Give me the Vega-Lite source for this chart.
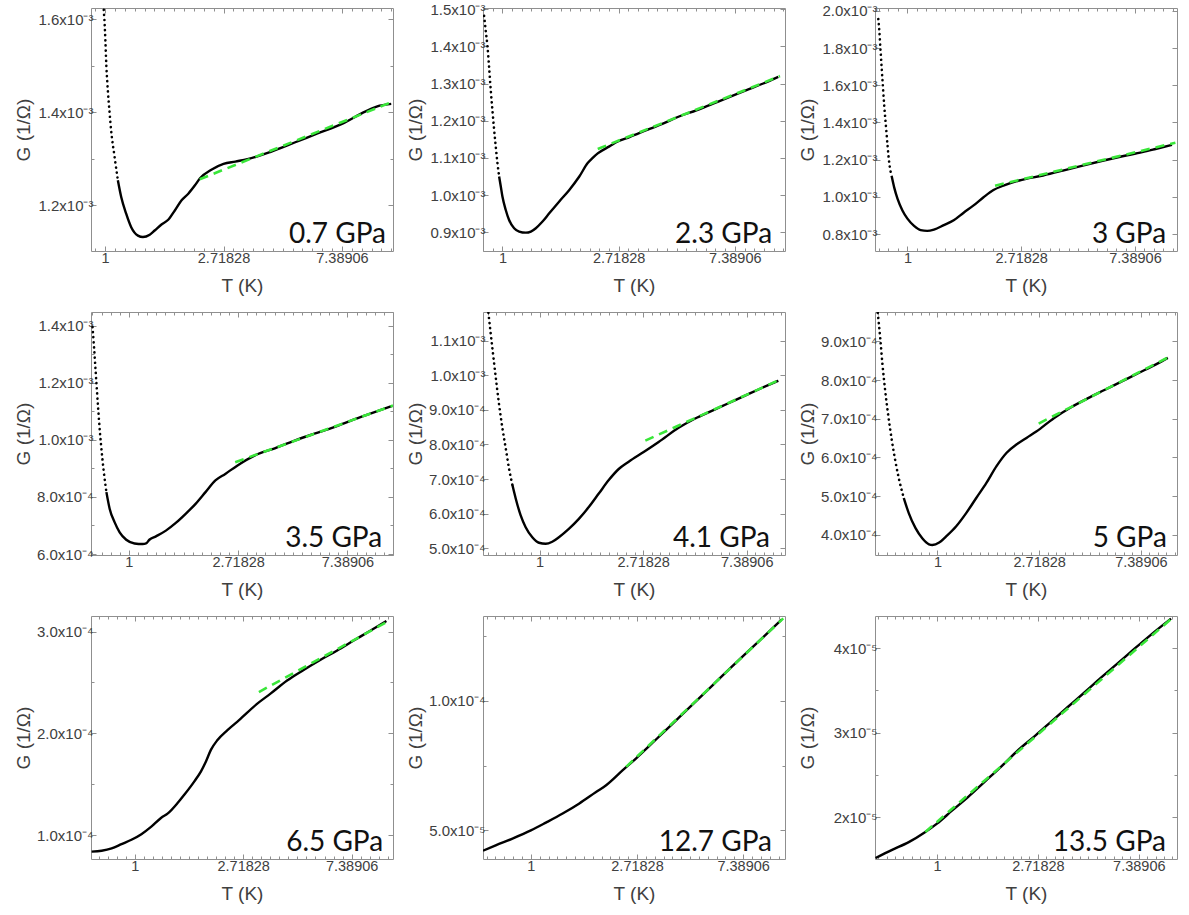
{
"$schema": "https://vega.github.io/schema/vega-lite/v6.json",
"autosize": {"type": "pad"},
"padding": {"left": 13, "top": 1, "right": 5, "bottom": 5},
"background": "white",
"columns": 3,
"bounds": "flush",
"spacing": {"row": 61, "column": 90},
"config": {
  "view": {"stroke": "#8f8f8f", "strokeWidth": 1},
  "axis": {"domain": false, "grid": false, "tickColor": "#8f8f8f", "tickWidth": 1, "labelColor": "#404040", "labelFont": "Liberation Sans", "labelFontSize": 14, "titleFont": "Liberation Sans", "titleFontSize": 19, "titleColor": "#404040", "titleFontWeight": "normal", "labelOverlap": false, "labelFlush": false}
},
"datasets": {
  "s1": [{"T":0.989,"G":0.00162},{"T":1.0,"G":0.001571},{"T":1.011,"G":0.001499},{"T":1.023,"G":0.001449},{"T":1.037,"G":0.001405},{"T":1.052,"G":0.001362},{"T":1.083,"G":0.001305},{"T":1.114,"G":0.001254}],
  "p1": [{"T":1.114,"G":0.001254},{"T":1.146,"G":0.001218},{"T":1.195,"G":0.001182},{"T":1.247,"G":0.001153},{"T":1.32,"G":0.001135},{"T":1.377,"G":0.001132},{"T":1.458,"G":0.001137},{"T":1.52,"G":0.001146},{"T":1.61,"G":0.001159},{"T":1.704,"G":0.001169},{"T":1.802,"G":0.001189},{"T":1.908,"G":0.001211},{"T":2.019,"G":0.001225},{"T":2.136,"G":0.001243},{"T":2.229,"G":0.001258},{"T":2.462,"G":0.001277},{"T":2.718,"G":0.001289},{"T":3.002,"G":0.001294},{"T":3.324,"G":0.001299},{"T":4.052,"G":0.001315},{"T":4.956,"G":0.001335},{"T":6.043,"G":0.001355},{"T":7.389,"G":0.001375},{"T":9.03,"G":0.001402},{"T":10.15,"G":0.001414},{"T":11.2,"G":0.001418}],
  "f1": [{"T":2.223,"G":0.001256},{"T":11.37,"G":0.001423}],
  "s2": [{"T":0.854,"G":0.001482},{"T":0.866,"G":0.001442},{"T":0.879,"G":0.001401},{"T":0.891,"G":0.001347},{"T":0.904,"G":0.001284},{"T":0.917,"G":0.00123},{"T":0.931,"G":0.001176},{"T":0.944,"G":0.001131},{"T":0.958,"G":0.001086},{"T":0.972,"G":0.00105}],
  "p2": [{"T":0.972,"G":0.00105},{"T":0.986,"G":0.001023},{"T":1.0,"G":0.000996},{"T":1.029,"G":0.00096},{"T":1.059,"G":0.000933},{"T":1.106,"G":0.000911},{"T":1.155,"G":0.000902},{"T":1.223,"G":0.000899},{"T":1.277,"G":0.000902},{"T":1.333,"G":0.000911},{"T":1.412,"G":0.000929},{"T":1.496,"G":0.000951},{"T":1.631,"G":0.000983},{"T":1.778,"G":0.001014},{"T":1.938,"G":0.00105},{"T":2.083,"G":0.001086},{"T":2.175,"G":0.0011},{"T":2.271,"G":0.001112},{"T":2.511,"G":0.001131},{"T":2.699,"G":0.001144},{"T":2.985,"G":0.001156},{"T":3.548,"G":0.001178},{"T":3.98,"G":0.001192},{"T":4.596,"G":0.001212},{"T":5.307,"G":0.001228},{"T":6.129,"G":0.001246},{"T":7.078,"G":0.001264},{"T":8.17,"G":0.001282},{"T":9.44,"G":0.0013},{"T":10.74,"G":0.001318}],
  "f2": [{"T":2.271,"G":0.001124},{"T":10.9,"G":0.00132}],
  "s3": [{"T":0.774,"G":0.001956},{"T":0.781,"G":0.001894},{"T":0.788,"G":0.001805},{"T":0.797,"G":0.001699},{"T":0.806,"G":0.001592},{"T":0.816,"G":0.001486},{"T":0.828,"G":0.001379},{"T":0.84,"G":0.001273},{"T":0.852,"G":0.001184},{"T":0.87,"G":0.001113}],
  "p3": [{"T":0.87,"G":0.001113},{"T":0.89,"G":0.001051},{"T":0.917,"G":0.000989},{"T":0.957,"G":0.000927},{"T":1.0,"G":0.000883},{"T":1.06,"G":0.000844},{"T":1.123,"G":0.000821},{"T":1.19,"G":0.000817},{"T":1.262,"G":0.000824},{"T":1.377,"G":0.000848},{"T":1.502,"G":0.000874},{"T":1.639,"G":0.000915},{"T":1.789,"G":0.000954},{"T":1.952,"G":0.000998},{"T":2.13,"G":0.001037},{"T":2.324,"G":0.00106},{"T":2.672,"G":0.001088},{"T":3.293,"G":0.001115},{"T":3.921,"G":0.001141},{"T":4.668,"G":0.001168},{"T":5.557,"G":0.001194},{"T":6.618,"G":0.001218},{"T":7.88,"G":0.00124},{"T":8.85,"G":0.001257},{"T":10.23,"G":0.001279}],
  "f3": [{"T":2.16,"G":0.00106},{"T":10.54,"G":0.001291}],
  "s4": [{"T":0.717,"G":0.001396},{"T":0.726,"G":0.001332},{"T":0.735,"G":0.001262},{"T":0.744,"G":0.001192},{"T":0.755,"G":0.00111},{"T":0.767,"G":0.001028},{"T":0.78,"G":0.000957},{"T":0.795,"G":0.000887},{"T":0.814,"G":0.000817}],
  "p4": [{"T":0.814,"G":0.000817},{"T":0.839,"G":0.000758},{"T":0.878,"G":0.000711},{"T":0.919,"G":0.000676},{"T":0.976,"G":0.00065},{"T":1.053,"G":0.000637},{"T":1.135,"G":0.000635},{"T":1.17,"G":0.000637},{"T":1.206,"G":0.00065},{"T":1.281,"G":0.000662},{"T":1.403,"G":0.000682},{"T":1.536,"G":0.000709},{"T":1.681,"G":0.000741},{"T":1.841,"G":0.000776},{"T":2.016,"G":0.000817},{"T":2.207,"G":0.000858},{"T":2.416,"G":0.000881},{"T":2.694,"G":0.00091},{"T":3.171,"G":0.000946},{"T":3.801,"G":0.000971},{"T":4.558,"G":0.000998},{"T":5.463,"G":0.001022},{"T":6.548,"G":0.001045},{"T":7.85,"G":0.001072},{"T":9.41,"G":0.001097},{"T":11.11,"G":0.001119}],
  "f4": [{"T":2.645,"G":0.000922},{"T":11.21,"G":0.001121}],
  "s5": [{"T":0.61,"G":0.00118},{"T":0.624,"G":0.001119},{"T":0.638,"G":0.001061},{"T":0.655,"G":0.000993},{"T":0.676,"G":0.000916},{"T":0.698,"G":0.000848},{"T":0.721,"G":0.000789},{"T":0.744,"G":0.000731},{"T":0.769,"G":0.000683}],
  "p5": [{"T":0.769,"G":0.000683},{"T":0.794,"G":0.000644},{"T":0.833,"G":0.000595},{"T":0.874,"G":0.000561},{"T":0.932,"G":0.000532},{"T":0.994,"G":0.000516},{"T":1.06,"G":0.000513},{"T":1.13,"G":0.000519},{"T":1.205,"G":0.000532},{"T":1.326,"G":0.000556},{"T":1.461,"G":0.000585},{"T":1.608,"G":0.000619},{"T":1.771,"G":0.000658},{"T":1.95,"G":0.000697},{"T":2.147,"G":0.000729},{"T":2.364,"G":0.00075},{"T":2.731,"G":0.000778},{"T":3.156,"G":0.000807},{"T":3.826,"G":0.000848},{"T":4.492,"G":0.000875},{"T":5.274,"G":0.000897},{"T":6.193,"G":0.000919},{"T":7.27,"G":0.000941},{"T":8.54,"G":0.000963},{"T":10.02,"G":0.000984}],
  "f5": [{"T":2.776,"G":0.000811},{"T":10.02,"G":0.000985}],
  "s6": [{"T":0.556,"G":0.0009737},{"T":0.569,"G":0.0009113},{"T":0.582,"G":0.0008419},{"T":0.598,"G":0.0007726},{"T":0.618,"G":0.0007033},{"T":0.639,"G":0.0006426},{"T":0.661,"G":0.0005906},{"T":0.683,"G":0.0005473},{"T":0.718,"G":0.0004953}],
  "p6": [{"T":0.718,"G":0.0004953},{"T":0.754,"G":0.0004563},{"T":0.806,"G":0.0004173},{"T":0.861,"G":0.0003913},{"T":0.92,"G":0.0003757},{"T":0.951,"G":0.000374},{"T":1.017,"G":0.0003801},{"T":1.087,"G":0.0003957},{"T":1.2,"G":0.0004217},{"T":1.326,"G":0.0004563},{"T":1.464,"G":0.0004953},{"T":1.618,"G":0.0005343},{"T":1.787,"G":0.0005776},{"T":1.974,"G":0.0006123},{"T":2.18,"G":0.000634},{"T":2.408,"G":0.0006513},{"T":2.642,"G":0.0006669},{"T":3.14,"G":0.0007016},{"T":3.706,"G":0.0007293},{"T":4.374,"G":0.0007527},{"T":5.164,"G":0.0007744},{"T":6.096,"G":0.000796},{"T":7.19,"G":0.0008177},{"T":8.49,"G":0.0008393},{"T":9.63,"G":0.0008575}],
  "f6": [{"T":2.705,"G":0.0006877},{"T":9.7,"G":0.0008593}],
  "p7": [{"T":0.672,"G":0.0000838},{"T":0.737,"G":0.0000847},{"T":0.808,"G":0.000087},{"T":0.885,"G":0.0000912},{"T":0.97,"G":0.0000955},{"T":1.063,"G":0.000101},{"T":1.165,"G":0.0001084},{"T":1.277,"G":0.0001172},{"T":1.357,"G":0.0001214},{"T":1.487,"G":0.0001318},{"T":1.581,"G":0.0001399},{"T":1.733,"G":0.0001529},{"T":1.842,"G":0.0001627},{"T":1.928,"G":0.0001724},{"T":2.018,"G":0.0001838},{"T":2.145,"G":0.0001935},{"T":2.351,"G":0.0002032},{"T":2.617,"G":0.000213},{"T":3.096,"G":0.0002292},{"T":3.497,"G":0.000239},{"T":4.075,"G":0.0002519},{"T":4.746,"G":0.0002623},{"T":5.529,"G":0.0002721},{"T":6.443,"G":0.0002812},{"T":7.5,"G":0.0002909},{"T":8.74,"G":0.0003006},{"T":10.18,"G":0.0003104}],
  "f7": [{"T":3.142,"G":0.0002406},{"T":10.5,"G":0.000311}],
  "p8": [{"T":0.637,"G":0.00004217},{"T":0.718,"G":0.00004426},{"T":0.841,"G":0.00004687},{"T":1.0,"G":0.00005},{"T":1.152,"G":0.000053},{"T":1.349,"G":0.0000565},{"T":1.579,"G":0.0000604},{"T":1.848,"G":0.0000648},{"T":2.032,"G":0.0000674},{"T":2.377,"G":0.0000732},{"T":2.697,"G":0.0000778},{"T":3.059,"G":0.00008264},{"T":3.47,"G":0.0000876},{"T":4.062,"G":0.0000937},{"T":4.754,"G":0.00009987},{"T":5.565,"G":0.0001061},{"T":6.514,"G":0.0001123},{"T":7.62,"G":0.0001184},{"T":8.93,"G":0.0001245},{"T":10.61,"G":0.0001312}],
  "f8": [{"T":2.454,"G":0.0000745},{"T":10.78,"G":0.0001317}],
  "p9": [{"T":0.544,"G":0.00001522},{"T":0.641,"G":0.00001618},{"T":0.756,"G":0.00001709},{"T":0.891,"G":0.00001829},{"T":1.0,"G":0.00001928},{"T":1.16,"G":0.0000208},{"T":1.367,"G":0.00002247},{"T":1.611,"G":0.00002426},{"T":1.899,"G":0.00002606},{"T":2.239,"G":0.00002797},{"T":2.665,"G":0.00002972},{"T":3.111,"G":0.00003135},{"T":3.666,"G":0.00003307},{"T":4.323,"G":0.00003478},{"T":5.095,"G":0.00003653},{"T":6.007,"G":0.00003821},{"T":7.08,"G":0.00003992},{"T":8.35,"G":0.00004159},{"T":10.17,"G":0.00004347}],
  "f9": [{"T":0.891,"G":0.00001829},{"T":10.34,"G":0.00004359}]
},
"concat": [
{"width": 302, "height": 243,
 "layer": [
  {"data": {"name": "p1"}, "mark": {"type": "line", "color": "#000000", "strokeWidth": 2.4, "interpolate": "monotone", "clip": true},
   "encoding": {
    "x": {"field": "T", "type": "quantitative", "scale": {"type": "log", "base": 2.718281828459045, "domain": [0.888, 11.37], "nice": false}, "axis": {"orient": "bottom", "title": "T (K)", "values": [0.5134,0.558,0.6065,0.6592,0.7165,0.7788,0.8465,0.92,1,1.0869,1.1814,1.284,1.3956,1.5169,1.6487,1.792,1.9477,2.117,2.301,2.5009,2.71828,2.9545,3.2113,3.4903,3.7937,4.1234,4.4817,4.8712,5.2945,5.7546,6.2547,6.7983,7.38906,8.0312,8.7291,9.4877,10.3123,11.2085], "tickCount": 200, "labelExpr": "datum.value == 1 ? '1' : datum.value == 2.71828 ? '2.71828' : datum.value == 7.38906 ? '7.38906' : ''", "tickSize": {"condition": {"test": "datum.value == 1 || datum.value == 2.71828 || datum.value == 7.38906", "value": -5}, "value": -3}, "labelPadding": 5, "titleY": 34, "titleBaseline": "middle", "labelFont": "Liberation Sans", "labelFontSize": 14.5, "labelColor": "#404040", "titleFont": "Liberation Sans", "titleFontSize": 19, "titleFontWeight": "normal", "titleColor": "#404040"}},
    "y": {"field": "G", "type": "quantitative", "scale": {"domain": [0.001102, 0.0016238], "nice": false, "zero": false}, "axis": {"orient": "left", "title": "G (1/\u03a9)", "values": [0.0012,0.0013,0.0014,0.0015,0.0016], "tickCount": 200, "labelExpr": "round(datum.value*1e4) % 2 == 0 ? format(datum.value*1e3, '.1f') + 'x10\u207b\u00b3' : ''", "tickSize": {"condition": {"test": "round(datum.value*1e4) % 2 == 0", "value": -5}, "value": -3}, "labelPadding": 3, "titleX": -68, "titleBaseline": "middle", "labelFont": "Liberation Sans", "labelFontSize": 15, "labelColor": "#404040", "titleFont": "Liberation Sans", "titleFontSize": 19, "titleFontWeight": "normal", "titleColor": "#404040"}}
   }},
  {"data": {"name": "s1"}, "mark": {"type": "line", "color": "#000000", "strokeWidth": 2.6, "strokeDash": [0.1, 5], "strokeCap": "round", "interpolate": "monotone", "clip": true},
   "encoding": {
    "x": {"field": "T", "type": "quantitative", "scale": {"type": "log", "base": 2.718281828459045, "domain": [0.888, 11.37], "nice": false}, "axis": null},
    "y": {"field": "G", "type": "quantitative", "scale": {"domain": [0.001102, 0.0016238], "nice": false, "zero": false}, "axis": null}
   }},
  {"data": {"name": "f1"}, "mark": {"type": "line", "color": "#39e639", "strokeWidth": 2.6, "strokeDash": [9, 6], "clip": true},
   "encoding": {
    "x": {"field": "T", "type": "quantitative", "scale": {"type": "log", "base": 2.718281828459045, "domain": [0.888, 11.37], "nice": false}, "axis": {"orient": "top", "title": null, "labels": false, "values": [0.5134,0.558,0.6065,0.6592,0.7165,0.7788,0.8465,0.92,1,1.0869,1.1814,1.284,1.3956,1.5169,1.6487,1.792,1.9477,2.117,2.301,2.5009,2.71828,2.9545,3.2113,3.4903,3.7937,4.1234,4.4817,4.8712,5.2945,5.7546,6.2547,6.7983,7.38906,8.0312,8.7291,9.4877,10.3123,11.2085], "tickCount": 200, "tickSize": {"condition": {"test": "datum.value == 1 || datum.value == 2.71828 || datum.value == 7.38906", "value": -5}, "value": -3}}},
    "y": {"field": "G", "type": "quantitative", "scale": {"domain": [0.001102, 0.0016238], "nice": false, "zero": false}, "axis": {"orient": "right", "title": null, "labels": false, "values": [0.0012,0.0013,0.0014,0.0015,0.0016], "tickCount": 200, "tickSize": {"condition": {"test": "round(datum.value*1e4) % 2 == 0", "value": -5}, "value": -3}}}
   }},
  {"data": {"values": [{"label": "0.7 GPa"}]}, "mark": {"type": "text", "font": "Lato", "fontSize": 28, "align": "right", "baseline": "alphabetic", "color": "#111111"},
   "encoding": {"x": {"datum": 10.71, "type": "quantitative", "axis": null}, "y": {"datum": 0.001119, "type": "quantitative", "axis": null}, "text": {"field": "label"}}}
 ],
 "resolve": {"axis": {"x": "independent", "y": "independent"}}
},
{"width": 302, "height": 243,
 "layer": [
  {"data": {"name": "p2"}, "mark": {"type": "line", "color": "#000000", "strokeWidth": 2.4, "interpolate": "monotone", "clip": true},
   "encoding": {
    "x": {"field": "T", "type": "quantitative", "scale": {"type": "log", "base": 2.718281828459045, "domain": [0.846, 11.38], "nice": false}, "axis": {"orient": "bottom", "title": "T (K)", "values": [0.5134,0.558,0.6065,0.6592,0.7165,0.7788,0.8465,0.92,1,1.0869,1.1814,1.284,1.3956,1.5169,1.6487,1.792,1.9477,2.117,2.301,2.5009,2.71828,2.9545,3.2113,3.4903,3.7937,4.1234,4.4817,4.8712,5.2945,5.7546,6.2547,6.7983,7.38906,8.0312,8.7291,9.4877,10.3123,11.2085], "tickCount": 200, "labelExpr": "datum.value == 1 ? '1' : datum.value == 2.71828 ? '2.71828' : datum.value == 7.38906 ? '7.38906' : ''", "tickSize": {"condition": {"test": "datum.value == 1 || datum.value == 2.71828 || datum.value == 7.38906", "value": -5}, "value": -3}, "labelPadding": 5, "titleY": 34, "titleBaseline": "middle", "labelFont": "Liberation Sans", "labelFontSize": 14.5, "labelColor": "#404040", "titleFont": "Liberation Sans", "titleFontSize": 19, "titleFontWeight": "normal", "titleColor": "#404040"}},
    "y": {"field": "G", "type": "quantitative", "scale": {"domain": [0.0008497, 0.001503], "nice": false, "zero": false}, "axis": {"orient": "left", "title": "G (1/\u03a9)", "values": [0.0009,0.001,0.0011,0.0012,0.0013,0.0014,0.0015], "tickCount": 200, "labelExpr": "format(datum.value*1e3, '.1f') + 'x10\u207b\u00b3'", "tickSize": -5, "labelPadding": 3, "titleX": -68, "titleBaseline": "middle", "labelFont": "Liberation Sans", "labelFontSize": 15, "labelColor": "#404040", "titleFont": "Liberation Sans", "titleFontSize": 19, "titleFontWeight": "normal", "titleColor": "#404040"}}
   }},
  {"data": {"name": "s2"}, "mark": {"type": "line", "color": "#000000", "strokeWidth": 2.6, "strokeDash": [0.1, 5], "strokeCap": "round", "interpolate": "monotone", "clip": true},
   "encoding": {
    "x": {"field": "T", "type": "quantitative", "scale": {"type": "log", "base": 2.718281828459045, "domain": [0.846, 11.38], "nice": false}, "axis": null},
    "y": {"field": "G", "type": "quantitative", "scale": {"domain": [0.0008497, 0.001503], "nice": false, "zero": false}, "axis": null}
   }},
  {"data": {"name": "f2"}, "mark": {"type": "line", "color": "#39e639", "strokeWidth": 2.6, "strokeDash": [9, 6], "clip": true},
   "encoding": {
    "x": {"field": "T", "type": "quantitative", "scale": {"type": "log", "base": 2.718281828459045, "domain": [0.846, 11.38], "nice": false}, "axis": {"orient": "top", "title": null, "labels": false, "values": [0.5134,0.558,0.6065,0.6592,0.7165,0.7788,0.8465,0.92,1,1.0869,1.1814,1.284,1.3956,1.5169,1.6487,1.792,1.9477,2.117,2.301,2.5009,2.71828,2.9545,3.2113,3.4903,3.7937,4.1234,4.4817,4.8712,5.2945,5.7546,6.2547,6.7983,7.38906,8.0312,8.7291,9.4877,10.3123,11.2085], "tickCount": 200, "tickSize": {"condition": {"test": "datum.value == 1 || datum.value == 2.71828 || datum.value == 7.38906", "value": -5}, "value": -3}}},
    "y": {"field": "G", "type": "quantitative", "scale": {"domain": [0.0008497, 0.001503], "nice": false, "zero": false}, "axis": {"orient": "right", "title": null, "labels": false, "values": [0.0009,0.001,0.0011,0.0012,0.0013,0.0014,0.0015], "tickCount": 200, "tickSize": -5}}
   }},
  {"data": {"values": [{"label": "2.3 GPa"}]}, "mark": {"type": "text", "font": "Lato", "fontSize": 28, "align": "right", "baseline": "alphabetic", "color": "#111111"},
   "encoding": {"x": {"datum": 10.18, "type": "quantitative", "axis": null}, "y": {"datum": 0.0008713, "type": "quantitative", "axis": null}, "text": {"field": "label"}}}
 ],
 "resolve": {"axis": {"x": "independent", "y": "independent"}}
},
{"width": 302, "height": 243,
 "layer": [
  {"data": {"name": "p3"}, "mark": {"type": "line", "color": "#000000", "strokeWidth": 2.4, "interpolate": "monotone", "clip": true},
   "encoding": {
    "x": {"field": "T", "type": "quantitative", "scale": {"type": "log", "base": 2.718281828459045, "domain": [0.752, 10.69], "nice": false}, "axis": {"orient": "bottom", "title": "T (K)", "values": [0.5134,0.558,0.6065,0.6592,0.7165,0.7788,0.8465,0.92,1,1.0869,1.1814,1.284,1.3956,1.5169,1.6487,1.792,1.9477,2.117,2.301,2.5009,2.71828,2.9545,3.2113,3.4903,3.7937,4.1234,4.4817,4.8712,5.2945,5.7546,6.2547,6.7983,7.38906,8.0312,8.7291,9.4877,10.3123,11.2085], "tickCount": 200, "labelExpr": "datum.value == 1 ? '1' : datum.value == 2.71828 ? '2.71828' : datum.value == 7.38906 ? '7.38906' : ''", "tickSize": {"condition": {"test": "datum.value == 1 || datum.value == 2.71828 || datum.value == 7.38906", "value": -5}, "value": -3}, "labelPadding": 5, "titleY": 34, "titleBaseline": "middle", "labelFont": "Liberation Sans", "labelFontSize": 14.5, "labelColor": "#404040", "titleFont": "Liberation Sans", "titleFontSize": 19, "titleFontWeight": "normal", "titleColor": "#404040"}},
    "y": {"field": "G", "type": "quantitative", "scale": {"domain": [0.000709, 0.002015], "nice": false, "zero": false}, "axis": {"orient": "left", "title": "G (1/\u03a9)", "values": [0.0008,0.001,0.0012,0.0014,0.0016,0.0018,0.002], "tickCount": 200, "labelExpr": "format(datum.value*1e3, '.1f') + 'x10\u207b\u00b3'", "tickSize": -5, "labelPadding": 3, "titleX": -68, "titleBaseline": "middle", "labelFont": "Liberation Sans", "labelFontSize": 15, "labelColor": "#404040", "titleFont": "Liberation Sans", "titleFontSize": 19, "titleFontWeight": "normal", "titleColor": "#404040"}}
   }},
  {"data": {"name": "s3"}, "mark": {"type": "line", "color": "#000000", "strokeWidth": 2.6, "strokeDash": [0.1, 5], "strokeCap": "round", "interpolate": "monotone", "clip": true},
   "encoding": {
    "x": {"field": "T", "type": "quantitative", "scale": {"type": "log", "base": 2.718281828459045, "domain": [0.752, 10.69], "nice": false}, "axis": null},
    "y": {"field": "G", "type": "quantitative", "scale": {"domain": [0.000709, 0.002015], "nice": false, "zero": false}, "axis": null}
   }},
  {"data": {"name": "f3"}, "mark": {"type": "line", "color": "#39e639", "strokeWidth": 2.6, "strokeDash": [9, 6], "clip": true},
   "encoding": {
    "x": {"field": "T", "type": "quantitative", "scale": {"type": "log", "base": 2.718281828459045, "domain": [0.752, 10.69], "nice": false}, "axis": {"orient": "top", "title": null, "labels": false, "values": [0.5134,0.558,0.6065,0.6592,0.7165,0.7788,0.8465,0.92,1,1.0869,1.1814,1.284,1.3956,1.5169,1.6487,1.792,1.9477,2.117,2.301,2.5009,2.71828,2.9545,3.2113,3.4903,3.7937,4.1234,4.4817,4.8712,5.2945,5.7546,6.2547,6.7983,7.38906,8.0312,8.7291,9.4877,10.3123,11.2085], "tickCount": 200, "tickSize": {"condition": {"test": "datum.value == 1 || datum.value == 2.71828 || datum.value == 7.38906", "value": -5}, "value": -3}}},
    "y": {"field": "G", "type": "quantitative", "scale": {"domain": [0.000709, 0.002015], "nice": false, "zero": false}, "axis": {"orient": "right", "title": null, "labels": false, "values": [0.0008,0.001,0.0012,0.0014,0.0016,0.0018,0.002], "tickCount": 200, "tickSize": -5}}
   }},
  {"data": {"values": [{"label": "3 GPa"}]}, "mark": {"type": "text", "font": "Lato", "fontSize": 28, "align": "right", "baseline": "alphabetic", "color": "#111111"},
   "encoding": {"x": {"datum": 9.71, "type": "quantitative", "axis": null}, "y": {"datum": 0.000751, "type": "quantitative", "axis": null}, "text": {"field": "label"}}}
 ],
 "resolve": {"axis": {"x": "independent", "y": "independent"}}
},
{"width": 302, "height": 243,
 "layer": [
  {"data": {"name": "p4"}, "mark": {"type": "line", "color": "#000000", "strokeWidth": 2.4, "interpolate": "monotone", "clip": true},
   "encoding": {
    "x": {"field": "T", "type": "quantitative", "scale": {"type": "log", "base": 2.718281828459045, "domain": [0.707, 11.21], "nice": false}, "axis": {"orient": "bottom", "title": "T (K)", "values": [0.5134,0.558,0.6065,0.6592,0.7165,0.7788,0.8465,0.92,1,1.0869,1.1814,1.284,1.3956,1.5169,1.6487,1.792,1.9477,2.117,2.301,2.5009,2.71828,2.9545,3.2113,3.4903,3.7937,4.1234,4.4817,4.8712,5.2945,5.7546,6.2547,6.7983,7.38906,8.0312,8.7291,9.4877,10.3123,11.2085], "tickCount": 200, "labelExpr": "datum.value == 1 ? '1' : datum.value == 2.71828 ? '2.71828' : datum.value == 7.38906 ? '7.38906' : ''", "tickSize": {"condition": {"test": "datum.value == 1 || datum.value == 2.71828 || datum.value == 7.38906", "value": -5}, "value": -3}, "labelPadding": 5, "titleY": 34, "titleBaseline": "middle", "labelFont": "Liberation Sans", "labelFontSize": 14.5, "labelColor": "#404040", "titleFont": "Liberation Sans", "titleFontSize": 19, "titleFontWeight": "normal", "titleColor": "#404040"}},
    "y": {"field": "G", "type": "quantitative", "scale": {"domain": [0.0005965, 0.001449], "nice": false, "zero": false}, "axis": {"orient": "left", "title": "G (1/\u03a9)", "values": [0.0006,0.0007,0.0008,0.0009,0.001,0.0011,0.0012,0.0013,0.0014], "tickCount": 200, "labelExpr": "round(datum.value*1e4) % 2 != 0 ? '' : (datum.value < 0.00095 ? format(datum.value*1e4, '.1f') + 'x10\u207b\u2074' : format(datum.value*1e3, '.1f') + 'x10\u207b\u00b3')", "tickSize": {"condition": {"test": "round(datum.value*1e4) % 2 == 0", "value": -5}, "value": -3}, "labelPadding": 3, "titleX": -68, "titleBaseline": "middle", "labelFont": "Liberation Sans", "labelFontSize": 15, "labelColor": "#404040", "titleFont": "Liberation Sans", "titleFontSize": 19, "titleFontWeight": "normal", "titleColor": "#404040"}}
   }},
  {"data": {"name": "s4"}, "mark": {"type": "line", "color": "#000000", "strokeWidth": 2.6, "strokeDash": [0.1, 5], "strokeCap": "round", "interpolate": "monotone", "clip": true},
   "encoding": {
    "x": {"field": "T", "type": "quantitative", "scale": {"type": "log", "base": 2.718281828459045, "domain": [0.707, 11.21], "nice": false}, "axis": null},
    "y": {"field": "G", "type": "quantitative", "scale": {"domain": [0.0005965, 0.001449], "nice": false, "zero": false}, "axis": null}
   }},
  {"data": {"name": "f4"}, "mark": {"type": "line", "color": "#39e639", "strokeWidth": 2.6, "strokeDash": [9, 6], "clip": true},
   "encoding": {
    "x": {"field": "T", "type": "quantitative", "scale": {"type": "log", "base": 2.718281828459045, "domain": [0.707, 11.21], "nice": false}, "axis": {"orient": "top", "title": null, "labels": false, "values": [0.5134,0.558,0.6065,0.6592,0.7165,0.7788,0.8465,0.92,1,1.0869,1.1814,1.284,1.3956,1.5169,1.6487,1.792,1.9477,2.117,2.301,2.5009,2.71828,2.9545,3.2113,3.4903,3.7937,4.1234,4.4817,4.8712,5.2945,5.7546,6.2547,6.7983,7.38906,8.0312,8.7291,9.4877,10.3123,11.2085], "tickCount": 200, "tickSize": {"condition": {"test": "datum.value == 1 || datum.value == 2.71828 || datum.value == 7.38906", "value": -5}, "value": -3}}},
    "y": {"field": "G", "type": "quantitative", "scale": {"domain": [0.0005965, 0.001449], "nice": false, "zero": false}, "axis": {"orient": "right", "title": null, "labels": false, "values": [0.0006,0.0007,0.0008,0.0009,0.001,0.0011,0.0012,0.0013,0.0014], "tickCount": 200, "tickSize": {"condition": {"test": "round(datum.value*1e4) % 2 == 0", "value": -5}, "value": -3}}}
   }},
  {"data": {"values": [{"label": "3.5 GPa"}]}, "mark": {"type": "text", "font": "Lato", "fontSize": 28, "align": "right", "baseline": "alphabetic", "color": "#111111"},
   "encoding": {"x": {"datum": 10.15, "type": "quantitative", "axis": null}, "y": {"datum": 0.0006246, "type": "quantitative", "axis": null}, "text": {"field": "label"}}}
 ],
 "resolve": {"axis": {"x": "independent", "y": "independent"}}
},
{"width": 302, "height": 243,
 "layer": [
  {"data": {"name": "p5"}, "mark": {"type": "line", "color": "#000000", "strokeWidth": 2.4, "interpolate": "monotone", "clip": true},
   "encoding": {
    "x": {"field": "T", "type": "quantitative", "scale": {"type": "log", "base": 2.718281828459045, "domain": [0.579, 10.69], "nice": false}, "axis": {"orient": "bottom", "title": "T (K)", "values": [0.5134,0.558,0.6065,0.6592,0.7165,0.7788,0.8465,0.92,1,1.0869,1.1814,1.284,1.3956,1.5169,1.6487,1.792,1.9477,2.117,2.301,2.5009,2.71828,2.9545,3.2113,3.4903,3.7937,4.1234,4.4817,4.8712,5.2945,5.7546,6.2547,6.7983,7.38906,8.0312,8.7291,9.4877,10.3123,11.2085], "tickCount": 200, "labelExpr": "datum.value == 1 ? '1' : datum.value == 2.71828 ? '2.71828' : datum.value == 7.38906 ? '7.38906' : ''", "tickSize": {"condition": {"test": "datum.value == 1 || datum.value == 2.71828 || datum.value == 7.38906", "value": -5}, "value": -3}, "labelPadding": 5, "titleY": 34, "titleBaseline": "middle", "labelFont": "Liberation Sans", "labelFontSize": 14.5, "labelColor": "#404040", "titleFont": "Liberation Sans", "titleFontSize": 19, "titleFontWeight": "normal", "titleColor": "#404040"}},
    "y": {"field": "G", "type": "quantitative", "scale": {"domain": [0.0004806, 0.0011825], "nice": false, "zero": false}, "axis": {"orient": "left", "title": "G (1/\u03a9)", "values": [0.0005,0.0006,0.0007,0.0008,0.0009,0.001,0.0011], "tickCount": 200, "labelExpr": "datum.value < 0.00095 ? format(datum.value*1e4, '.1f') + 'x10\u207b\u2074' : format(datum.value*1e3, '.1f') + 'x10\u207b\u00b3'", "tickSize": -5, "labelPadding": 3, "titleX": -68, "titleBaseline": "middle", "labelFont": "Liberation Sans", "labelFontSize": 15, "labelColor": "#404040", "titleFont": "Liberation Sans", "titleFontSize": 19, "titleFontWeight": "normal", "titleColor": "#404040"}}
   }},
  {"data": {"name": "s5"}, "mark": {"type": "line", "color": "#000000", "strokeWidth": 2.6, "strokeDash": [0.1, 5], "strokeCap": "round", "interpolate": "monotone", "clip": true},
   "encoding": {
    "x": {"field": "T", "type": "quantitative", "scale": {"type": "log", "base": 2.718281828459045, "domain": [0.579, 10.69], "nice": false}, "axis": null},
    "y": {"field": "G", "type": "quantitative", "scale": {"domain": [0.0004806, 0.0011825], "nice": false, "zero": false}, "axis": null}
   }},
  {"data": {"name": "f5"}, "mark": {"type": "line", "color": "#39e639", "strokeWidth": 2.6, "strokeDash": [9, 6], "clip": true},
   "encoding": {
    "x": {"field": "T", "type": "quantitative", "scale": {"type": "log", "base": 2.718281828459045, "domain": [0.579, 10.69], "nice": false}, "axis": {"orient": "top", "title": null, "labels": false, "values": [0.5134,0.558,0.6065,0.6592,0.7165,0.7788,0.8465,0.92,1,1.0869,1.1814,1.284,1.3956,1.5169,1.6487,1.792,1.9477,2.117,2.301,2.5009,2.71828,2.9545,3.2113,3.4903,3.7937,4.1234,4.4817,4.8712,5.2945,5.7546,6.2547,6.7983,7.38906,8.0312,8.7291,9.4877,10.3123,11.2085], "tickCount": 200, "tickSize": {"condition": {"test": "datum.value == 1 || datum.value == 2.71828 || datum.value == 7.38906", "value": -5}, "value": -3}}},
    "y": {"field": "G", "type": "quantitative", "scale": {"domain": [0.0004806, 0.0011825], "nice": false, "zero": false}, "axis": {"orient": "right", "title": null, "labels": false, "values": [0.0005,0.0006,0.0007,0.0008,0.0009,0.001,0.0011], "tickCount": 200, "tickSize": -5}}
   }},
  {"data": {"values": [{"label": "4.1 GPa"}]}, "mark": {"type": "text", "font": "Lato", "fontSize": 28, "align": "right", "baseline": "alphabetic", "color": "#111111"},
   "encoding": {"x": {"datum": 9.25, "type": "quantitative", "axis": null}, "y": {"datum": 0.0005039, "type": "quantitative", "axis": null}, "text": {"field": "label"}}}
 ],
 "resolve": {"axis": {"x": "independent", "y": "independent"}}
},
{"width": 302, "height": 243,
 "layer": [
  {"data": {"name": "p6"}, "mark": {"type": "line", "color": "#000000", "strokeWidth": 2.4, "interpolate": "monotone", "clip": true},
   "encoding": {
    "x": {"field": "T", "type": "quantitative", "scale": {"type": "log", "base": 2.718281828459045, "domain": [0.541, 10.54], "nice": false}, "axis": {"orient": "bottom", "title": "T (K)", "values": [0.5134,0.558,0.6065,0.6592,0.7165,0.7788,0.8465,0.92,1,1.0869,1.1814,1.284,1.3956,1.5169,1.6487,1.792,1.9477,2.117,2.301,2.5009,2.71828,2.9545,3.2113,3.4903,3.7937,4.1234,4.4817,4.8712,5.2945,5.7546,6.2547,6.7983,7.38906,8.0312,8.7291,9.4877,10.3123,11.2085], "tickCount": 200, "labelExpr": "datum.value == 1 ? '1' : datum.value == 2.71828 ? '2.71828' : datum.value == 7.38906 ? '7.38906' : ''", "tickSize": {"condition": {"test": "datum.value == 1 || datum.value == 2.71828 || datum.value == 7.38906", "value": -5}, "value": -3}, "labelPadding": 5, "titleY": 34, "titleBaseline": "middle", "labelFont": "Liberation Sans", "labelFontSize": 14.5, "labelColor": "#404040", "titleFont": "Liberation Sans", "titleFontSize": 19, "titleFontWeight": "normal", "titleColor": "#404040"}},
    "y": {"field": "G", "type": "quantitative", "scale": {"domain": [0.000348, 0.000976], "nice": false, "zero": false}, "axis": {"orient": "left", "title": "G (1/\u03a9)", "values": [0.0004,0.0005,0.0006,0.0007,0.0008,0.0009], "tickCount": 200, "labelExpr": "format(datum.value*1e4, '.1f') + 'x10\u207b\u2074'", "tickSize": -5, "labelPadding": 3, "titleX": -68, "titleBaseline": "middle", "labelFont": "Liberation Sans", "labelFontSize": 15, "labelColor": "#404040", "titleFont": "Liberation Sans", "titleFontSize": 19, "titleFontWeight": "normal", "titleColor": "#404040"}}
   }},
  {"data": {"name": "s6"}, "mark": {"type": "line", "color": "#000000", "strokeWidth": 2.6, "strokeDash": [0.1, 5], "strokeCap": "round", "interpolate": "monotone", "clip": true},
   "encoding": {
    "x": {"field": "T", "type": "quantitative", "scale": {"type": "log", "base": 2.718281828459045, "domain": [0.541, 10.54], "nice": false}, "axis": null},
    "y": {"field": "G", "type": "quantitative", "scale": {"domain": [0.000348, 0.000976], "nice": false, "zero": false}, "axis": null}
   }},
  {"data": {"name": "f6"}, "mark": {"type": "line", "color": "#39e639", "strokeWidth": 2.6, "strokeDash": [9, 6], "clip": true},
   "encoding": {
    "x": {"field": "T", "type": "quantitative", "scale": {"type": "log", "base": 2.718281828459045, "domain": [0.541, 10.54], "nice": false}, "axis": {"orient": "top", "title": null, "labels": false, "values": [0.5134,0.558,0.6065,0.6592,0.7165,0.7788,0.8465,0.92,1,1.0869,1.1814,1.284,1.3956,1.5169,1.6487,1.792,1.9477,2.117,2.301,2.5009,2.71828,2.9545,3.2113,3.4903,3.7937,4.1234,4.4817,4.8712,5.2945,5.7546,6.2547,6.7983,7.38906,8.0312,8.7291,9.4877,10.3123,11.2085], "tickCount": 200, "tickSize": {"condition": {"test": "datum.value == 1 || datum.value == 2.71828 || datum.value == 7.38906", "value": -5}, "value": -3}}},
    "y": {"field": "G", "type": "quantitative", "scale": {"domain": [0.000348, 0.000976], "nice": false, "zero": false}, "axis": {"orient": "right", "title": null, "labels": false, "values": [0.0004,0.0005,0.0006,0.0007,0.0008,0.0009], "tickCount": 200, "tickSize": -5}}
   }},
  {"data": {"values": [{"label": "5 GPa"}]}, "mark": {"type": "text", "font": "Lato", "fontSize": 28, "align": "right", "baseline": "alphabetic", "color": "#111111"},
   "encoding": {"x": {"datum": 9.54, "type": "quantitative", "axis": null}, "y": {"datum": 0.0003688, "type": "quantitative", "axis": null}, "text": {"field": "label"}}}
 ],
 "resolve": {"axis": {"x": "independent", "y": "independent"}}
},
{"width": 302, "height": 243,
 "layer": [
  {"data": {"name": "p7"}, "mark": {"type": "line", "color": "#000000", "strokeWidth": 2.4, "interpolate": "monotone", "clip": true},
   "encoding": {
    "x": {"field": "T", "type": "quantitative", "scale": {"type": "log", "base": 2.718281828459045, "domain": [0.668, 10.82], "nice": false}, "axis": {"orient": "bottom", "title": "T (K)", "values": [0.5134,0.558,0.6065,0.6592,0.7165,0.7788,0.8465,0.92,1,1.0869,1.1814,1.284,1.3956,1.5169,1.6487,1.792,1.9477,2.117,2.301,2.5009,2.71828,2.9545,3.2113,3.4903,3.7937,4.1234,4.4817,4.8712,5.2945,5.7546,6.2547,6.7983,7.38906,8.0312,8.7291,9.4877,10.3123,11.2085], "tickCount": 200, "labelExpr": "datum.value == 1 ? '1' : datum.value == 2.71828 ? '2.71828' : datum.value == 7.38906 ? '7.38906' : ''", "tickSize": {"condition": {"test": "datum.value == 1 || datum.value == 2.71828 || datum.value == 7.38906", "value": -5}, "value": -3}, "labelPadding": 5, "titleY": 34, "titleBaseline": "middle", "labelFont": "Liberation Sans", "labelFontSize": 14.5, "labelColor": "#404040", "titleFont": "Liberation Sans", "titleFontSize": 19, "titleFontWeight": "normal", "titleColor": "#404040"}},
    "y": {"field": "G", "type": "quantitative", "scale": {"domain": [0.0000766, 0.0003153], "nice": false, "zero": false}, "axis": {"orient": "left", "title": "G (1/\u03a9)", "values": [0.0001,0.00015,0.0002,0.00025,0.0003], "tickCount": 200, "labelExpr": "round(datum.value*1e5) % 10 == 0 ? format(datum.value*1e4, '.1f') + 'x10\u207b\u2074' : ''", "tickSize": {"condition": {"test": "round(datum.value*1e5) % 10 == 0", "value": -5}, "value": -3}, "labelPadding": 3, "titleX": -68, "titleBaseline": "middle", "labelFont": "Liberation Sans", "labelFontSize": 15, "labelColor": "#404040", "titleFont": "Liberation Sans", "titleFontSize": 19, "titleFontWeight": "normal", "titleColor": "#404040"}}
   }},
  {"data": {"name": "f7"}, "mark": {"type": "line", "color": "#39e639", "strokeWidth": 2.6, "strokeDash": [9, 6], "clip": true},
   "encoding": {
    "x": {"field": "T", "type": "quantitative", "scale": {"type": "log", "base": 2.718281828459045, "domain": [0.668, 10.82], "nice": false}, "axis": {"orient": "top", "title": null, "labels": false, "values": [0.5134,0.558,0.6065,0.6592,0.7165,0.7788,0.8465,0.92,1,1.0869,1.1814,1.284,1.3956,1.5169,1.6487,1.792,1.9477,2.117,2.301,2.5009,2.71828,2.9545,3.2113,3.4903,3.7937,4.1234,4.4817,4.8712,5.2945,5.7546,6.2547,6.7983,7.38906,8.0312,8.7291,9.4877,10.3123,11.2085], "tickCount": 200, "tickSize": {"condition": {"test": "datum.value == 1 || datum.value == 2.71828 || datum.value == 7.38906", "value": -5}, "value": -3}}},
    "y": {"field": "G", "type": "quantitative", "scale": {"domain": [0.0000766, 0.0003153], "nice": false, "zero": false}, "axis": {"orient": "right", "title": null, "labels": false, "values": [0.0001,0.00015,0.0002,0.00025,0.0003], "tickCount": 200, "tickSize": {"condition": {"test": "round(datum.value*1e5) % 10 == 0", "value": -5}, "value": -3}}}
   }},
  {"data": {"values": [{"label": "6.5 GPa"}]}, "mark": {"type": "text", "font": "Lato", "fontSize": 28, "align": "right", "baseline": "alphabetic", "color": "#111111"},
   "encoding": {"x": {"datum": 9.88, "type": "quantitative", "axis": null}, "y": {"datum": 0.0000844, "type": "quantitative", "axis": null}, "text": {"field": "label"}}}
 ],
 "resolve": {"axis": {"x": "independent", "y": "independent"}}
},
{"width": 302, "height": 243,
 "layer": [
  {"data": {"name": "p8"}, "mark": {"type": "line", "color": "#000000", "strokeWidth": 2.4, "interpolate": "monotone", "clip": true},
   "encoding": {
    "x": {"field": "T", "type": "quantitative", "scale": {"type": "log", "base": 2.718281828459045, "domain": [0.637, 10.96], "nice": false}, "axis": {"orient": "bottom", "title": "T (K)", "values": [0.5134,0.558,0.6065,0.6592,0.7165,0.7788,0.8465,0.92,1,1.0869,1.1814,1.284,1.3956,1.5169,1.6487,1.792,1.9477,2.117,2.301,2.5009,2.71828,2.9545,3.2113,3.4903,3.7937,4.1234,4.4817,4.8712,5.2945,5.7546,6.2547,6.7983,7.38906,8.0312,8.7291,9.4877,10.3123,11.2085], "tickCount": 200, "labelExpr": "datum.value == 1 ? '1' : datum.value == 2.71828 ? '2.71828' : datum.value == 7.38906 ? '7.38906' : ''", "tickSize": {"condition": {"test": "datum.value == 1 || datum.value == 2.71828 || datum.value == 7.38906", "value": -5}, "value": -3}, "labelPadding": 5, "titleY": 34, "titleBaseline": "middle", "labelFont": "Liberation Sans", "labelFontSize": 14.5, "labelColor": "#404040", "titleFont": "Liberation Sans", "titleFontSize": 19, "titleFontWeight": "normal", "titleColor": "#404040"}},
    "y": {"field": "G", "type": "quantitative", "scale": {"domain": [0.000039, 0.0001326], "nice": false, "zero": false}, "axis": {"orient": "left", "title": "G (1/\u03a9)", "values": [0.00005,0.000075,0.0001,0.000125], "tickCount": 200, "labelExpr": "round(datum.value*1e6) % 50 != 0 ? '' : (datum.value < 0.000095 ? format(datum.value*1e5, '.1f') + 'x10\u207b\u2075' : format(datum.value*1e4, '.1f') + 'x10\u207b\u2074')", "tickSize": {"condition": {"test": "round(datum.value*1e6) % 50 == 0", "value": -5}, "value": -3}, "labelPadding": 3, "titleX": -68, "titleBaseline": "middle", "labelFont": "Liberation Sans", "labelFontSize": 15, "labelColor": "#404040", "titleFont": "Liberation Sans", "titleFontSize": 19, "titleFontWeight": "normal", "titleColor": "#404040"}}
   }},
  {"data": {"name": "f8"}, "mark": {"type": "line", "color": "#39e639", "strokeWidth": 2.6, "strokeDash": [9, 6], "clip": true},
   "encoding": {
    "x": {"field": "T", "type": "quantitative", "scale": {"type": "log", "base": 2.718281828459045, "domain": [0.637, 10.96], "nice": false}, "axis": {"orient": "top", "title": null, "labels": false, "values": [0.5134,0.558,0.6065,0.6592,0.7165,0.7788,0.8465,0.92,1,1.0869,1.1814,1.284,1.3956,1.5169,1.6487,1.792,1.9477,2.117,2.301,2.5009,2.71828,2.9545,3.2113,3.4903,3.7937,4.1234,4.4817,4.8712,5.2945,5.7546,6.2547,6.7983,7.38906,8.0312,8.7291,9.4877,10.3123,11.2085], "tickCount": 200, "tickSize": {"condition": {"test": "datum.value == 1 || datum.value == 2.71828 || datum.value == 7.38906", "value": -5}, "value": -3}}},
    "y": {"field": "G", "type": "quantitative", "scale": {"domain": [0.000039, 0.0001326], "nice": false, "zero": false}, "axis": {"orient": "right", "title": null, "labels": false, "values": [0.00005,0.000075,0.0001,0.000125], "tickCount": 200, "tickSize": {"condition": {"test": "round(datum.value*1e6) % 50 == 0", "value": -5}, "value": -3}}}
   }},
  {"data": {"values": [{"label": "12.7 GPa"}]}, "mark": {"type": "text", "font": "Lato", "fontSize": 28, "align": "right", "baseline": "alphabetic", "color": "#111111"},
   "encoding": {"x": {"datum": 9.69, "type": "quantitative", "axis": null}, "y": {"datum": 0.00004213, "type": "quantitative", "axis": null}, "text": {"field": "label"}}}
 ],
 "resolve": {"axis": {"x": "independent", "y": "independent"}}
},
{"width": 302, "height": 243,
 "layer": [
  {"data": {"name": "p9"}, "mark": {"type": "line", "color": "#000000", "strokeWidth": 2.4, "interpolate": "monotone", "clip": true},
   "encoding": {
    "x": {"field": "T", "type": "quantitative", "scale": {"type": "log", "base": 2.718281828459045, "domain": [0.541, 10.79], "nice": false}, "axis": {"orient": "bottom", "title": "T (K)", "values": [0.5134,0.558,0.6065,0.6592,0.7165,0.7788,0.8465,0.92,1,1.0869,1.1814,1.284,1.3956,1.5169,1.6487,1.792,1.9477,2.117,2.301,2.5009,2.71828,2.9545,3.2113,3.4903,3.7937,4.1234,4.4817,4.8712,5.2945,5.7546,6.2547,6.7983,7.38906,8.0312,8.7291,9.4877,10.3123,11.2085], "tickCount": 200, "labelExpr": "datum.value == 1 ? '1' : datum.value == 2.71828 ? '2.71828' : datum.value == 7.38906 ? '7.38906' : ''", "tickSize": {"condition": {"test": "datum.value == 1 || datum.value == 2.71828 || datum.value == 7.38906", "value": -5}, "value": -3}, "labelPadding": 5, "titleY": 34, "titleBaseline": "middle", "labelFont": "Liberation Sans", "labelFontSize": 14.5, "labelColor": "#404040", "titleFont": "Liberation Sans", "titleFontSize": 19, "titleFontWeight": "normal", "titleColor": "#404040"}},
    "y": {"field": "G", "type": "quantitative", "scale": {"domain": [0.0000151, 0.00004378], "nice": false, "zero": false}, "axis": {"orient": "left", "title": "G (1/\u03a9)", "values": [0.00002,0.000025,0.00003,0.000035,0.00004], "tickCount": 200, "labelExpr": "round(datum.value*1e6) % 10 == 0 ? format(datum.value*1e5, '.0f') + 'x10\u207b\u2075' : ''", "tickSize": {"condition": {"test": "round(datum.value*1e6) % 10 == 0", "value": -5}, "value": -3}, "labelPadding": 3, "titleX": -68, "titleBaseline": "middle", "labelFont": "Liberation Sans", "labelFontSize": 15, "labelColor": "#404040", "titleFont": "Liberation Sans", "titleFontSize": 19, "titleFontWeight": "normal", "titleColor": "#404040"}}
   }},
  {"data": {"name": "f9"}, "mark": {"type": "line", "color": "#39e639", "strokeWidth": 2.6, "strokeDash": [9, 6], "clip": true},
   "encoding": {
    "x": {"field": "T", "type": "quantitative", "scale": {"type": "log", "base": 2.718281828459045, "domain": [0.541, 10.79], "nice": false}, "axis": {"orient": "top", "title": null, "labels": false, "values": [0.5134,0.558,0.6065,0.6592,0.7165,0.7788,0.8465,0.92,1,1.0869,1.1814,1.284,1.3956,1.5169,1.6487,1.792,1.9477,2.117,2.301,2.5009,2.71828,2.9545,3.2113,3.4903,3.7937,4.1234,4.4817,4.8712,5.2945,5.7546,6.2547,6.7983,7.38906,8.0312,8.7291,9.4877,10.3123,11.2085], "tickCount": 200, "tickSize": {"condition": {"test": "datum.value == 1 || datum.value == 2.71828 || datum.value == 7.38906", "value": -5}, "value": -3}}},
    "y": {"field": "G", "type": "quantitative", "scale": {"domain": [0.0000151, 0.00004378], "nice": false, "zero": false}, "axis": {"orient": "right", "title": null, "labels": false, "values": [0.00002,0.000025,0.00003,0.000035,0.00004], "tickCount": 200, "tickSize": {"condition": {"test": "round(datum.value*1e6) % 10 == 0", "value": -5}, "value": -3}}}
   }},
  {"data": {"values": [{"label": "13.5 GPa"}]}, "mark": {"type": "text", "font": "Lato", "fontSize": 28, "align": "right", "baseline": "alphabetic", "color": "#111111"},
   "encoding": {"x": {"datum": 9.67, "type": "quantitative", "axis": null}, "y": {"datum": 0.00001606, "type": "quantitative", "axis": null}, "text": {"field": "label"}}}
 ],
 "resolve": {"axis": {"x": "independent", "y": "independent"}}
}
]
}
